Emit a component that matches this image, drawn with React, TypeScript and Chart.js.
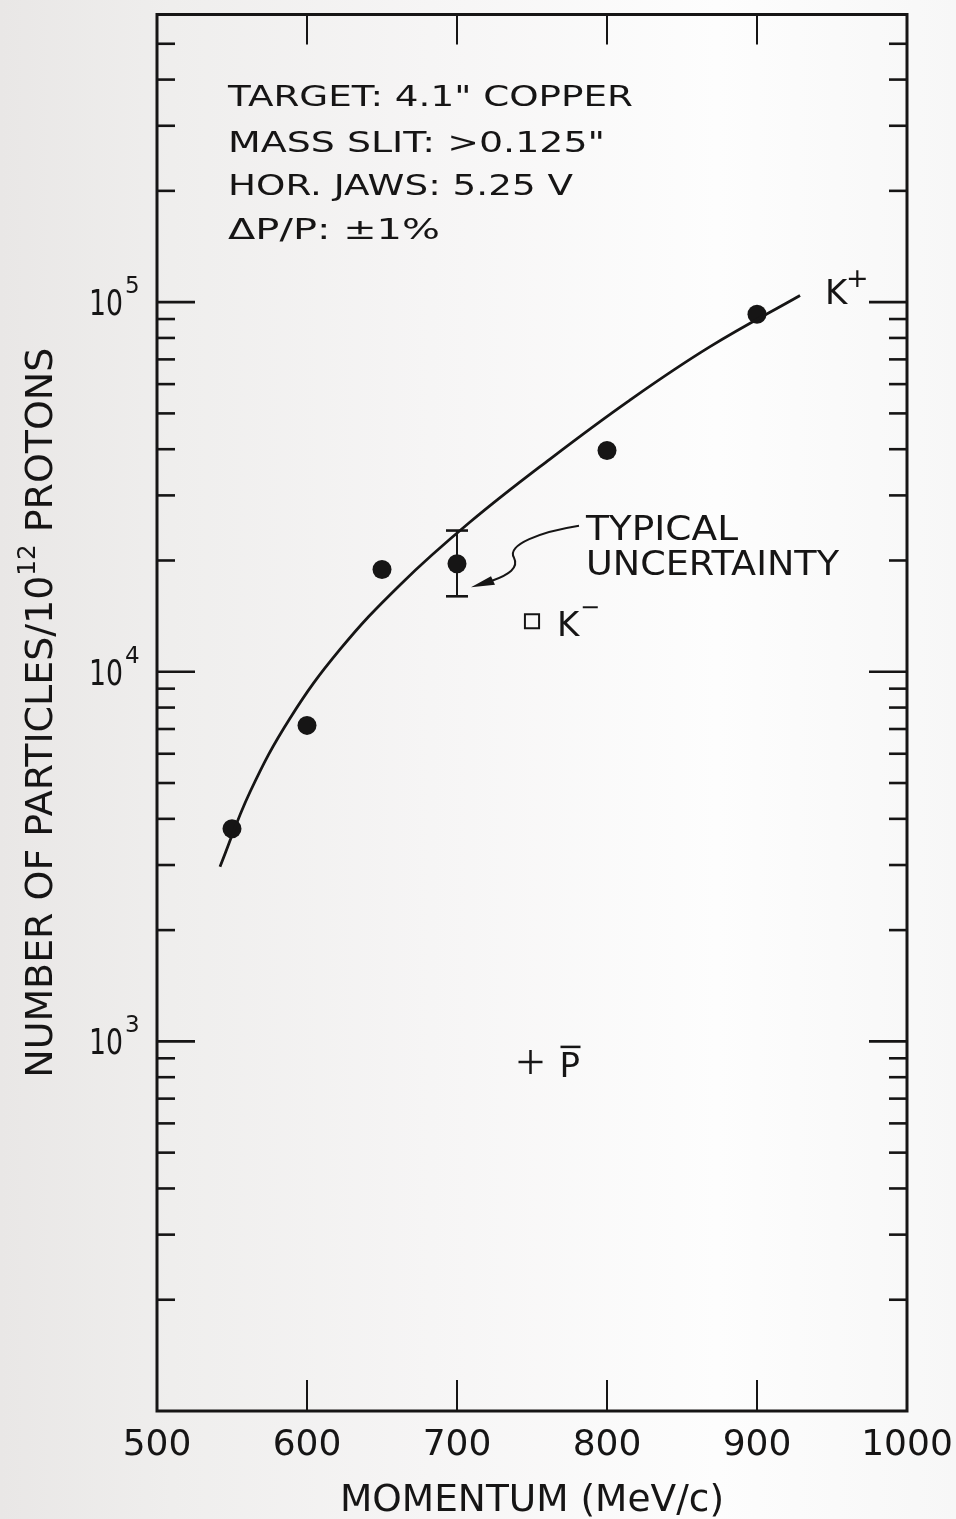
import { useEffect, useRef } from "react";
import { Chart, registerables } from "chart.js";

Chart.register(...registerables);

// K+ yield per 10^12 protons, momentum in MeV/c
const kPlusMomentum = [550, 600, 650, 700, 800, 900];
const kPlusYield = [3760, 7160, 18900, 19600, 39700, 92700];

// typical uncertainty, shown on the 700 MeV/c point
const errMomentum = [700];
const errCenter = [19600];
const errLow = [16000];
const errHigh = [24100];

// smooth curve drawn through the K+ yields
const curveMomentum = [542, 562, 588.7, 622, 662, 708.7, 762, 815.3, 868.7, 928.7];
const curveYield = [2968, 4728, 7487, 11490, 17180, 25410, 37630, 54330, 75770, 104200];

// single K- and anti-proton measurements
const kMinusMomentum = [750];
const kMinusYield = [13700];
const pBarMomentum = [749];
const pBarYield = [880];

// axes
const xMin = 500;
const xMax = 1000;
const yMin = 100;
const yMax = 600000;
const xTickValues = [500, 600, 700, 800, 900, 1000];
const xInnerTicks = [600, 700, 800, 900];
const yDecadeExponents = [3, 4, 5];

const infoLines = ['TARGET: 4.1" COPPER', 'MASS SLIT: >0.125"', "HOR. JAWS: 5.25 V", "ΔP/P: ±1%"];
const infoWidths = [405, 377, 345, 212];

const INK = "#161515";
const FONT = '"DejaVu Sans", "Liberation Sans", sans-serif';

function drawText(
  ctx: CanvasRenderingContext2D,
  s: string,
  x: number,
  y: number,
  size: number,
  width?: number,
  align: CanvasTextAlign = "left"
) {
  ctx.font = `${size}px ${FONT}`;
  const w = ctx.measureText(s).width;
  const sx = width ? width / w : 1;
  ctx.save();
  ctx.translate(x, y);
  ctx.scale(sx, 1);
  ctx.textAlign = align;
  ctx.textBaseline = "alphabetic";
  ctx.fillText(s, 0, 0);
  ctx.restore();
}

function seg(ctx: CanvasRenderingContext2D, x1: number, y1: number, x2: number, y2: number) {
  ctx.beginPath();
  ctx.moveTo(x1, y1);
  ctx.lineTo(x2, y2);
  ctx.stroke();
}

const paperPlugin = {
  id: "paper",
  beforeDraw(chart: any) {
    const { ctx, width, height } = chart;
    const g = ctx.createLinearGradient(0, 0, width, 0);
    g.addColorStop(0, "#e9e7e6");
    g.addColorStop(0.18, "#efeeed");
    g.addColorStop(0.45, "#f6f5f5");
    g.addColorStop(0.75, "#fdfdfd");
    g.addColorStop(1, "#f7f7f7");
    ctx.save();
    ctx.fillStyle = g;
    ctx.fillRect(0, 0, width, height);
    ctx.restore();
  },
};

const framePlugin = {
  id: "frame",
  afterDatasetsDraw(chart: any) {
    const { ctx, chartArea: a, scales } = chart;
    const x = scales.x;
    const y = scales.y;
    ctx.save();
    ctx.strokeStyle = INK;
    ctx.fillStyle = INK;
    ctx.lineCap = "butt";

    // error bar
    const ex = x.getPixelForValue(errMomentum[0]);
    const eLo = y.getPixelForValue(errLow[0]);
    const eHi = y.getPixelForValue(errHigh[0]);
    ctx.lineWidth = 2;
    seg(ctx, ex, eLo, ex, eHi);
    ctx.lineWidth = 2.6;
    seg(ctx, ex - 11, eLo, ex + 11, eLo);
    seg(ctx, ex - 11, eHi, ex + 11, eHi);

    // frame
    ctx.lineWidth = 3;
    ctx.strokeRect(a.left, a.top, a.right - a.left, a.bottom - a.top);

    // log ticks on both vertical edges
    ctx.lineWidth = 2.6;
    for (let e = 2; e <= 5; e++) {
      for (let m = 1; m <= 9; m++) {
        const v = m * Math.pow(10, e);
        if (v <= yMin || v >= yMax) continue;
        const py = y.getPixelForValue(v);
        const len = m === 1 ? 38 : 18;
        seg(ctx, a.left, py, a.left + len, py);
        seg(ctx, a.right, py, a.right - len, py);
      }
    }
    // momentum ticks on top and bottom edges
    ctx.lineWidth = 2;
    for (const v of xInnerTicks) {
      const px = x.getPixelForValue(v);
      seg(ctx, px, a.top, px, a.top + 30);
      seg(ctx, px, a.bottom, px, a.bottom - 31);
    }

    // x tick labels
    for (const v of xTickValues) {
      const px = x.getPixelForValue(v);
      drawText(ctx, String(v), px, a.bottom + 44, 36, undefined, "center");
    }
    // y decade labels
    for (const e of yDecadeExponents) {
      const py = y.getPixelForValue(Math.pow(10, e));
      drawText(ctx, "10", a.left - 34, py + 13, 36, 34, "right");
      drawText(ctx, String(e), a.left - 32, py - 9, 23);
    }

    // axis titles
    const cx = (a.left + a.right) / 2;
    drawText(ctx, "MOMENTUM (MeV/c)", cx, a.bottom + 100, 38, 384, "center");

    const parts = [
      { t: "NUMBER OF PARTICLES/10", size: 37, dy: 0 },
      { t: "12", size: 24, dy: -17 },
      { t: " PROTONS", size: 37, dy: 0 },
    ];
    let total = 0;
    const widths: number[] = [];
    for (const p of parts) {
      ctx.font = `${p.size}px ${FONT}`;
      const w = ctx.measureText(p.t).width;
      widths.push(w);
      total += w;
    }
    const target = 730;
    const sx = target / total;
    const cy = (a.top + a.bottom) / 2;
    ctx.save();
    ctx.translate(a.left - 105, cy + target / 2);
    ctx.rotate(-Math.PI / 2);
    ctx.scale(sx, 1);
    let off = 0;
    parts.forEach((p, i) => {
      ctx.font = `${p.size}px ${FONT}`;
      ctx.textAlign = "left";
      ctx.textBaseline = "alphabetic";
      ctx.fillText(p.t, off, p.dy);
      off += widths[i];
    });
    ctx.restore();

    // run conditions
    const infoBase = [91, 137, 180, 224];
    infoLines.forEach((s, i) => {
      drawText(ctx, s, a.left + 71, a.top + infoBase[i], 29, infoWidths[i]);
    });

    // K+ label at the end of the curve
    const kx = x.getPixelForValue(curveMomentum[curveMomentum.length - 1]);
    const ky = y.getPixelForValue(curveYield[curveYield.length - 1]);
    drawText(ctx, "K", kx + 25, ky + 8, 34);
    drawText(ctx, "+", kx + 46, ky - 9, 27);

    // K- label
    const mx = x.getPixelForValue(kMinusMomentum[0]);
    const my = y.getPixelForValue(kMinusYield[0]);
    drawText(ctx, "K", mx + 25, my + 15, 34);
    drawText(ctx, "−", mx + 48, my - 6, 24);

    // anti-proton label
    const px0 = x.getPixelForValue(pBarMomentum[0]);
    const py0 = y.getPixelForValue(pBarYield[0]);
    drawText(ctx, "P", px0 + 29, py0 + 15, 34);
    ctx.lineWidth = 2.5;
    seg(ctx, px0 + 30, py0 - 15, px0 + 50, py0 - 15);

    // uncertainty note with curved arrow
    const ey = y.getPixelForValue(errCenter[0]);
    drawText(ctx, "TYPICAL", ex + 129, ey - 24, 34, 152);
    drawText(ctx, "UNCERTAINTY", ex + 129, ey + 11, 34, 253);
    ctx.lineWidth = 2;
    ctx.beginPath();
    ctx.moveTo(ex + 122, ey - 38);
    ctx.bezierCurveTo(ex + 84, ey - 32, ex + 49, ey - 19, ex + 57, ey - 6);
    ctx.bezierCurveTo(ex + 62, ey + 4, ex + 52, ey + 11, ex + 35, ey + 17);
    ctx.stroke();
    ctx.beginPath();
    ctx.moveTo(ex + 14, ey + 23.5);
    ctx.lineTo(ex + 34, ey + 12.5);
    ctx.lineTo(ex + 38, ey + 21);
    ctx.closePath();
    ctx.fill();

    ctx.restore();
  },
};

export default function App() {
  const ref = useRef<HTMLCanvasElement>(null);

  useEffect(() => {
    const canvas = ref.current;
    if (!canvas) return;
    const pts = (xs: number[], ys: number[]) => xs.map((v, i) => ({ x: v, y: ys[i] }));
    const chart = new Chart(canvas, {
      type: "scatter",
      data: {
        datasets: [
          {
            label: "K+ curve",
            data: pts(curveMomentum, curveYield),
            showLine: true,
            borderColor: INK,
            borderWidth: 2.8,
            pointRadius: 0,
            tension: 0.4,
            fill: false,
          } as any,
          {
            label: "K+",
            data: pts(kPlusMomentum, kPlusYield),
            pointStyle: "circle",
            pointRadius: 9.5,
            pointBackgroundColor: INK,
            pointBorderColor: INK,
            pointBorderWidth: 0,
          },
          {
            label: "K-",
            data: pts(kMinusMomentum, kMinusYield),
            pointStyle: "rect",
            pointRadius: 10,
            pointBackgroundColor: "rgba(0,0,0,0)",
            pointBorderColor: INK,
            pointBorderWidth: 2,
          },
          {
            label: "anti-p",
            data: pts(pBarMomentum, pBarYield),
            pointStyle: "cross",
            pointRadius: 12,
            pointBorderColor: INK,
            pointBorderWidth: 2.5,
          },
        ],
      },
      options: {
        responsive: false,
        animation: false,
        devicePixelRatio: 1,
        layout: { padding: { left: 157, right: 49, top: 10, bottom: 108 } },
        scales: {
          x: { type: "linear", min: xMin, max: xMax, display: false },
          y: { type: "logarithmic", min: yMin, max: yMax, display: false },
        },
        plugins: {
          legend: { display: false },
          tooltip: { enabled: false },
        },
      },
      plugins: [paperPlugin, framePlugin],
    });
    return () => chart.destroy();
  }, []);

  return (
    <div style={{ position: "fixed", left: 0, top: 0, width: 956, height: 1519 }}>
      <canvas ref={ref} width={956} height={1519} style={{ display: "block" }} />
    </div>
  );
}
